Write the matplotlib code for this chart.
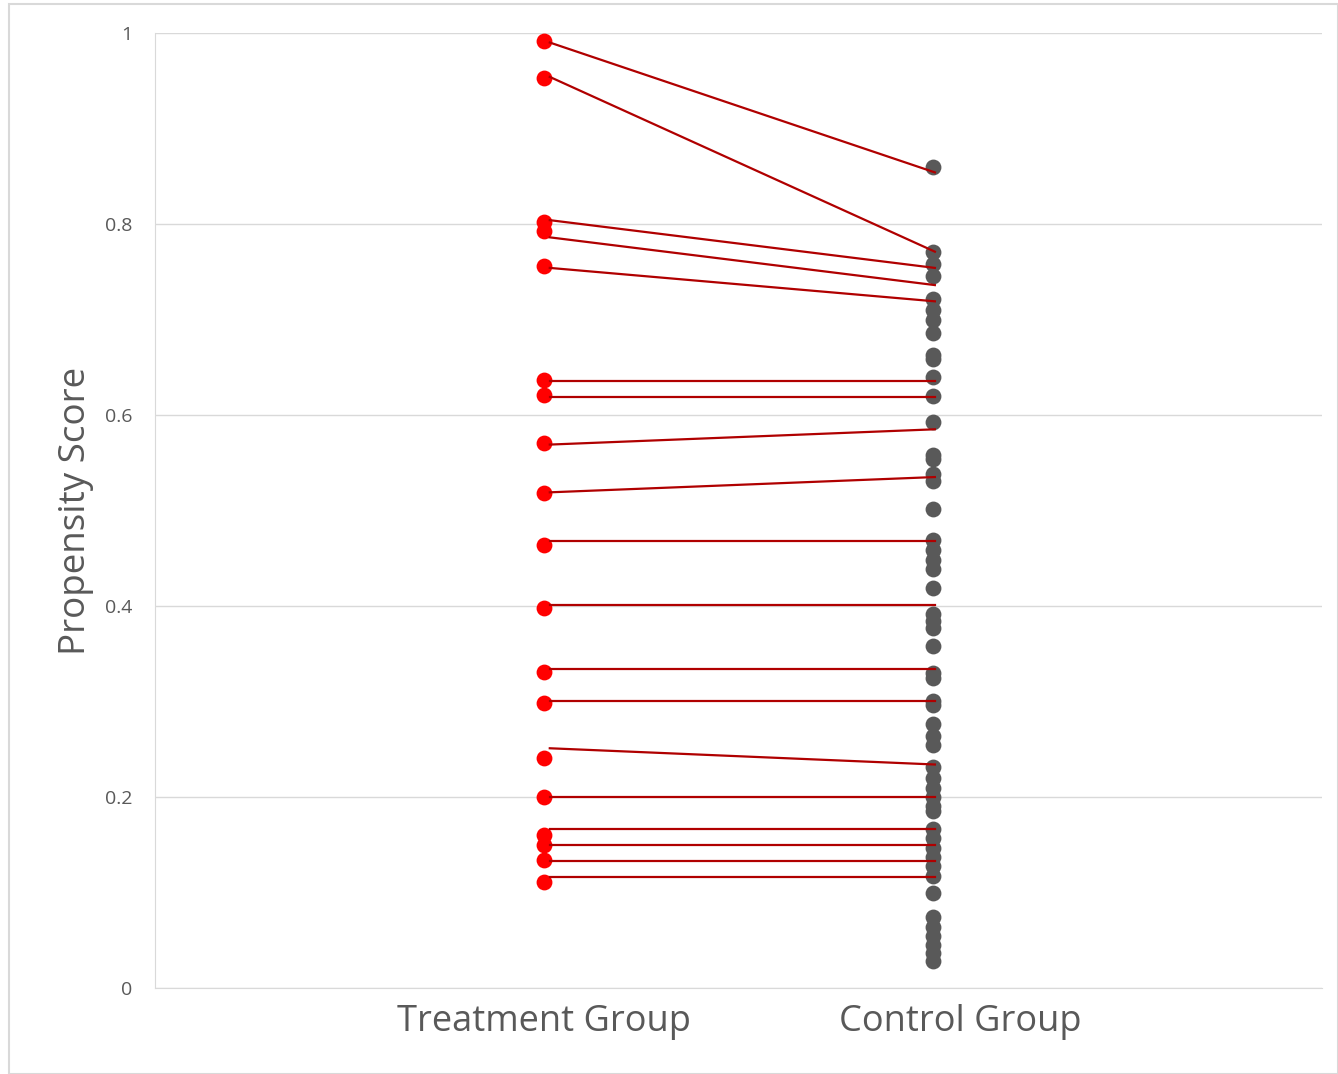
import matplotlib.pyplot as plt
from matplotlib.patches import Rectangle

plt.rcParams['font.family'] = ['Open Sans', 'DejaVu Sans']

# propensity scores
treatment = [0.992, 0.953, 0.802, 0.793, 0.756, 0.637, 0.621, 0.571, 0.518,
             0.464, 0.398, 0.331, 0.298, 0.241, 0.200, 0.160, 0.150, 0.134, 0.111]
control = [0.860, 0.771, 0.758, 0.746, 0.721, 0.710, 0.699, 0.686, 0.663, 0.659,
           0.640, 0.620, 0.593, 0.558, 0.554, 0.538, 0.531, 0.502, 0.469, 0.459,
           0.448, 0.439, 0.419, 0.392, 0.384, 0.377, 0.358, 0.330, 0.325, 0.301,
           0.296, 0.276, 0.264, 0.254, 0.231, 0.220, 0.209, 0.200, 0.191, 0.185,
           0.166, 0.157, 0.147, 0.137, 0.128, 0.117, 0.099, 0.074, 0.064, 0.054,
           0.045, 0.037, 0.028]
# matching lines (start = treatment side, end = matched control)
match_start = [0.990, 0.954, 0.804, 0.786, 0.754, 0.636, 0.619, 0.569, 0.519,
               0.468, 0.401, 0.334, 0.301, 0.251, 0.200, 0.166, 0.150, 0.133, 0.116]
match_end = [0.854, 0.771, 0.754, 0.736, 0.719, 0.636, 0.619, 0.585, 0.535,
             0.468, 0.401, 0.334, 0.301, 0.234, 0.200, 0.166, 0.150, 0.133, 0.116]
groups = ['Treatment Group', 'Control Group']
yticks = [0, 0.2, 0.4, 0.6, 0.8, 1]
ytick_labels = ['0', '0.2', '0.4', '0.6', '0.8', '1']

grey = '#595959'
fig = plt.figure(figsize=(13.38, 10.74), dpi=100)
fig.patches.append(Rectangle((0.007, 0.0), 0.993, 0.996, transform=fig.transFigure,
                             fill=False, edgecolor='#d9d9d9', linewidth=1.5))
ax = fig.add_axes([0.1158, 0.0801, 0.8722, 0.8892])

ax.scatter([1] * len(treatment), treatment, s=130, color='#ff0000', zorder=3,
           linewidths=0)
ax.scatter([2] * len(control), control, s=130, color=grey, zorder=2, linewidths=0)
for a, b in zip(match_start, match_end):
    ax.plot([1.015, 2.005], [a, b], color='#b00000', linewidth=1.6, zorder=4)

ax.set_xlim(0, 3)
ax.set_ylim(0, 1)
ax.set_xticks([])
ax.set_yticks(yticks)
ax.set_yticklabels(ytick_labels)
ax.tick_params(axis='y', length=0, pad=16, labelsize=14, labelcolor=grey)
ax.grid(axis='y', color='#d9d9d9', linewidth=1)
ax.set_axisbelow(True)
for side in ['top', 'right']:
    ax.spines[side].set_visible(False)
ax.spines['left'].set_color('#d9d9d9')
ax.spines['bottom'].set_color('#d9d9d9')

ax.set_ylabel('Propensity Score', fontsize=26.5, color=grey, labelpad=8)
ax.text(1, -0.036, groups[0], ha='center', va='center', fontsize=26, color=grey)
ax.text(2.07, -0.036, groups[1], ha='center', va='center', fontsize=26, color=grey)

fig.savefig('out.png', dpi=100)
